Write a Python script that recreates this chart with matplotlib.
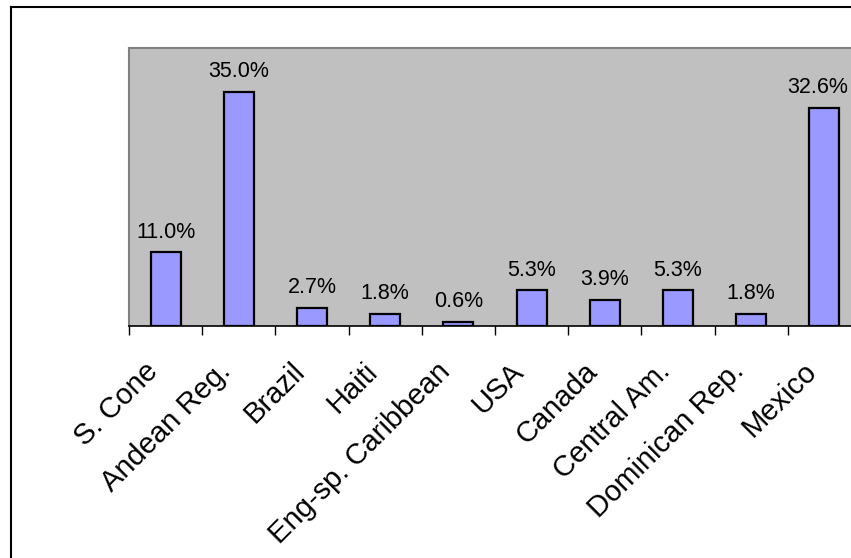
import matplotlib.pyplot as plt
import numpy as np
from matplotlib.lines import Line2D
from matplotlib.transforms import ScaledTranslation

plt.rcParams['font.family'] = ['Liberation Sans', 'DejaVu Sans']

# share of migrants by region of origin (percent)
regions = ['S. Cone', 'Andean Reg.', 'Brazil', 'Haiti', 'Eng-sp. Caribbean',
           'USA', 'Canada', 'Central Am.', 'Dominican Rep.', 'Mexico']
shares = [11.0, 35.0, 2.7, 1.8, 0.6, 5.3, 3.9, 5.3, 1.8, 32.6]

fig = plt.figure(figsize=(8.51, 5.58), dpi=100)
# plot area runs off the right edge, like the original screenshot
ax = fig.add_axes([129/851, 1 - 326/558, 732/851, 278/558])
ax.set_facecolor('#c0c0c0')

x = np.arange(len(regions))
bars = ax.bar(x, shares, width=0.41, color='#9999ff', edgecolor='black', linewidth=1.6)

for i, v in enumerate(shares):
    # last label nudged left so it stays inside the picture
    dx = -5 if i == len(shares) - 1 else 0
    ax.annotate('%.1f%%' % v, (x[i], v), xytext=(dx, 7), textcoords='offset points',
                ha='center', va='bottom', fontsize=15.5)

ax.set_xlim(-0.5, len(regions) - 0.5)
ax.set_ylim(0, 41.5)
ax.set_yticks([])
ax.set_xticks(np.arange(-0.5, len(regions), 1.0))
ax.set_xticklabels([])
ax.tick_params(axis='x', direction='out', length=6.5, width=1, color='black')

for s in ['top', 'left', 'right']:
    ax.spines[s].set_color('#808080')
    ax.spines[s].set_linewidth(1.5)
ax.spines['bottom'].set_color('black')
ax.spines['bottom'].set_linewidth(1.2)

# rotated category labels under the axis
off = ScaledTranslation(-12/100, -41/100, fig.dpi_scale_trans)
trans = ax.get_xaxis_transform() + off
for xi, name in zip(x, regions):
    ax.text(xi, 0, name, transform=trans, rotation=45, rotation_mode='anchor',
            ha='right', va='center', fontsize=21, clip_on=False)

# chart frame (right and bottom edges are cut off)
fig.add_artist(Line2D([11/851, 1], [1 - 7/558, 1 - 7/558], color='black', lw=1.5))
fig.add_artist(Line2D([11/851, 11/851], [0, 1 - 7/558], color='black', lw=1.5))

fig.savefig('out.png', dpi=100)
